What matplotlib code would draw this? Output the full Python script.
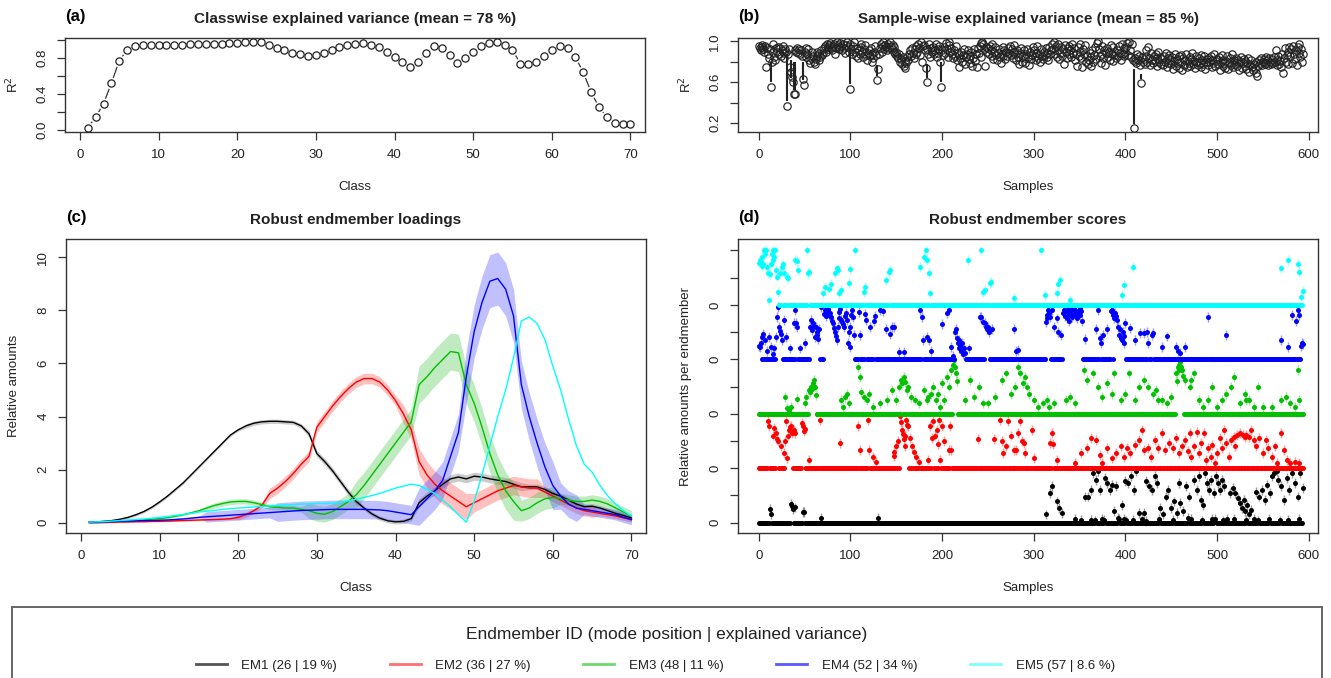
import matplotlib.pyplot as plt
import numpy as np
from matplotlib.lines import Line2D

plt.rcParams['font.family'] = ['Liberation Sans', 'DejaVu Sans']

W, H = 1331, 678
TXT = '#222222'

# ---- data -------------------------------------------------------------
classes = np.arange(1, 71)

# (a) classwise explained variance
r2_class = [0.02, 0.14, 0.29, 0.52, 0.77, 0.89, 0.93, 0.94, 0.94, 0.94,
            0.94, 0.94, 0.945, 0.955, 0.955, 0.955, 0.96, 0.96, 0.965, 0.97,
            0.975, 0.975, 0.975, 0.94, 0.91, 0.885, 0.86, 0.845, 0.82, 0.835,
            0.86, 0.89, 0.92, 0.945, 0.955, 0.965, 0.95, 0.92, 0.87, 0.81,
            0.75, 0.695, 0.75, 0.855, 0.93, 0.915, 0.83, 0.745, 0.795, 0.865,
            0.93, 0.965, 0.975, 0.95, 0.89, 0.735, 0.73, 0.76, 0.825, 0.885,
            0.935, 0.915, 0.81, 0.64, 0.42, 0.25, 0.14, 0.075, 0.06, 0.06]

# (b) sample-wise explained variance (percent)
r2_sample = [
    95, 93, 91, 96, 94, 92, 90, 95, 75, 93, 88, 84, 92, 55, 80, 90, 97, 85, 82, 93,
    90, 94, 88, 93, 86, 91, 95, 89, 84, 92, 90, 37, 88, 92, 75, 70, 65, 60, 48, 91,
    48, 90, 93, 89, 92, 88, 91, 86, 63, 57, 90, 93, 85, 88, 92, 82, 79, 84, 90, 86,
    80, 78, 83, 86, 90, 88, 82, 85, 91, 87, 89, 93, 95, 90, 97, 94, 92, 96, 98, 93,
    91, 95, 97, 88, 93, 99, 96, 92, 94, 98, 95, 91, 97, 93, 89, 96, 99, 94, 90, 53,
    97, 92, 88, 95, 99, 90, 86, 93, 84, 91, 88, 94, 97, 90, 85, 92, 96, 87, 82, 89,
    91, 86, 93, 80, 88, 84, 90, 95, 87, 62, 73, 88, 93, 97, 90, 95, 99, 92, 96, 94,
    91, 97, 93, 99, 95, 92, 96, 90, 94, 88, 90, 86, 84, 88, 80, 83, 78, 85, 76, 81,
    74, 79, 85, 82, 88, 91, 86, 93, 89, 84, 92, 88, 95, 90, 97, 93, 87, 99, 80, 95,
    96, 91, 74, 60, 92, 88, 97, 85, 93, 90, 94, 88, 91, 97, 85, 92, 89, 95, 80, 55,
    91, 87, 94, 89, 98, 92, 85, 96, 99, 90, 93, 88, 84, 91, 86, 95, 82, 89, 75, 87,
    84, 90, 80, 87, 92, 78, 85, 88, 91, 83, 79, 86, 90, 76, 84, 92, 81, 88, 75, 93,
    89, 95, 98, 85, 99, 97, 92, 76, 94, 90, 93, 88, 95, 91, 86, 97, 83, 90, 94, 87,
    82, 89, 92, 85, 79, 88, 94, 86, 91, 83, 90, 86, 93, 89, 95, 87, 92, 84, 90, 96,
    88, 82, 91, 85, 78, 89, 93, 80, 86, 91, 84, 79, 88, 92, 85, 77, 90, 83, 87, 94,
    91, 86, 82, 89, 95, 84, 88, 80, 92, 86, 83, 90, 87, 93, 85, 89, 82, 94, 88, 91,
    97, 92, 99, 88, 95, 85, 91, 97, 83, 89, 94, 86, 92, 78, 96, 90, 84, 93, 88, 95,
    91, 85, 97, 89, 93, 82, 88, 76, 94, 86, 90, 97, 84, 75, 92, 88, 96, 80, 86, 78,
    82, 89, 76, 85, 91, 80, 87, 94, 83, 98, 100, 92, 86, 79, 95, 88, 84, 91, 77, 89,
    93, 85, 90, 82, 96, 88, 81, 94, 87, 90, 84, 91, 86, 95, 89, 82, 97, 88, 93, 86,
    90, 94, 98, 87, 99, 91, 85, 97, 82, 15, 81, 84, 79, 88, 82, 86, 77, 59, 85, 80,
    83, 78, 91, 86, 80, 94, 84, 77, 89, 82, 79, 86, 81, 88, 76, 84, 90, 80, 85, 78,
    83, 77, 86, 80, 89, 75, 84, 79, 87, 82, 78, 85, 73, 81, 88, 76, 83, 79, 86, 74,
    80, 87, 72, 84, 77, 82, 88, 75, 81, 79, 85, 76, 83, 89, 78, 81, 74, 86, 80, 77,
    84, 79, 87, 75, 82, 78, 86, 73, 80, 83, 77, 84, 80, 86, 75, 82, 79, 88, 76, 81,
    83, 78, 85, 72, 80, 87, 76, 82, 79, 74, 81, 86, 73, 79, 84, 77, 88, 75, 82, 80,
    78, 84, 76, 82, 72, 80, 85, 74, 79, 83, 76, 81, 73, 79, 84, 70, 77, 82, 75, 72,
    78, 74, 80, 69, 66, 76, 82, 79, 84, 77, 80, 83, 78, 85, 79, 82, 77, 84, 80, 78,
    83, 79, 85, 80, 91, 77, 82, 86, 78, 81, 75, 88, 69, 84, 93, 80, 87, 78, 90, 94,
    86, 92, 79, 95, 88, 83, 91, 77, 94, 89, 97, 85, 92, 80, 88]
# range bars of the low outliers: sample, bottom, top
seg_x = [13, 31, 35, 38, 40, 48, 99, 129, 183, 199, 409, 417]
seg_lo = [0.60, 0.42, 0.64, 0.52, 0.52, 0.62, 0.58, 0.66, 0.64, 0.60, 0.19, 0.63]
seg_hi = [0.80, 0.88, 0.82, 0.80, 0.80, 0.80, 0.92, 0.77, 0.78, 0.80, 0.73, 0.68]

# (c) robust endmember loadings (mean) and half width of the band
em1_load = [0.01, 0.03, 0.05, 0.08, 0.13, 0.2, 0.3, 0.42, 0.58, 0.78,
            1.0, 1.25, 1.5, 1.8, 2.1, 2.4, 2.7, 3.0, 3.3, 3.5,
            3.65, 3.75, 3.8, 3.82, 3.82, 3.8, 3.78, 3.65, 3.35, 2.6,
            2.3, 1.95, 1.55, 1.15, 0.8, 0.55, 0.33, 0.17, 0.07, 0.03,
            0.05, 0.15, 0.75, 1.0, 1.2, 1.45, 1.65, 1.72, 1.65, 1.75,
            1.72, 1.65, 1.6, 1.55, 1.45, 1.35, 1.35, 1.35, 1.25, 1.1,
            1.0, 0.85, 0.7, 0.6, 0.62, 0.55, 0.45, 0.35, 0.27, 0.18]
em2_load = [0.01, 0.01, 0.02, 0.02, 0.03, 0.03, 0.04, 0.04, 0.05, 0.05,
            0.06, 0.07, 0.08, 0.09, 0.1, 0.11, 0.12, 0.13, 0.15, 0.2,
            0.3, 0.45, 0.65, 1.1, 1.3, 1.55, 1.85, 2.2, 2.5, 3.6,
            4.0, 4.4, 4.75, 5.05, 5.3, 5.43, 5.43, 5.3, 5.0, 4.6,
            4.1, 3.5, 2.3, 1.8, 1.45, 1.2, 1.0, 0.8, 0.6, 0.75,
            0.9, 1.05, 1.2, 1.3, 1.4, 1.35, 1.3, 1.3, 1.15, 1.0,
            0.85, 0.7, 0.55, 0.45, 0.4, 0.35, 0.3, 0.25, 0.18, 0.12]
em3_load = [0.02, 0.03, 0.04, 0.05, 0.06, 0.07, 0.09, 0.11, 0.13, 0.15,
            0.19, 0.24, 0.3, 0.37, 0.45, 0.55, 0.65, 0.72, 0.78, 0.8,
            0.8, 0.75, 0.68, 0.6, 0.58, 0.55, 0.55, 0.5, 0.45, 0.35,
            0.32, 0.42, 0.6, 0.8, 1.05, 1.4, 1.8, 2.2, 2.6, 3.0,
            3.4, 3.8, 5.2, 5.5, 5.85, 6.15, 6.45, 6.4, 5.2, 4.5,
            3.6, 2.6, 1.8, 1.2, 0.8, 0.45, 0.55, 0.75, 0.9, 0.95,
            0.9, 0.85, 0.8, 0.8, 0.85, 0.8, 0.7, 0.55, 0.4, 0.25]
em4_load = [0.01, 0.02, 0.03, 0.04, 0.05, 0.06, 0.07, 0.08, 0.08, 0.09,
            0.1, 0.12, 0.14, 0.17, 0.2, 0.22, 0.24, 0.26, 0.28, 0.3,
            0.32, 0.34, 0.36, 0.38, 0.4, 0.42, 0.44, 0.46, 0.47, 0.48,
            0.49, 0.5, 0.5, 0.5, 0.5, 0.5, 0.49, 0.48, 0.45, 0.4,
            0.35, 0.3, 0.6, 0.9, 1.2, 1.6, 2.5, 3.4, 5.5, 7.2,
            8.3, 9.1, 9.2, 8.8, 7.8, 5.2, 4.0, 3.0, 2.1, 1.4,
            1.0, 0.7, 0.55, 0.5, 0.45, 0.4, 0.35, 0.3, 0.2, 0.12]
em5_load = [0.02, 0.03, 0.04, 0.06, 0.08, 0.1, 0.12, 0.14, 0.17, 0.2,
            0.23, 0.27, 0.31, 0.35, 0.4, 0.43, 0.46, 0.5, 0.53, 0.55,
            0.57, 0.59, 0.61, 0.63, 0.65, 0.67, 0.68, 0.7, 0.71, 0.72,
            0.72, 0.73, 0.77, 0.82, 0.88, 0.95, 1.02, 1.1, 1.2, 1.3,
            1.38, 1.45, 1.4, 1.25, 1.1, 0.85, 0.6, 0.3, 0.02, 0.8,
            1.8, 2.9, 4.0, 5.0, 6.2, 7.6, 7.75, 7.5, 6.9, 5.9,
            5.0, 3.9, 2.9, 2.2, 1.9, 1.4, 1.0, 0.7, 0.45, 0.25]

em1_band = [0.05] * 20 + [0.08] * 8 + [0.12] * 7 + [0.08] * 7 + [0.15] * 14 + [0.1] * 14
em2_band = [0.03] * 19 + [0.1] * 4 + [0.2] * 17 + [0.35] * 2 + [0.5] * 7 + [0.35] * 9 + [0.2] * 7 + [0.1] * 5
em3_band = [0.04] * 15 + [0.1] * 13 + [0.3] * 6 + [0.5] * 8 + [0.7] * 6 + [0.7] * 7 + [0.4] * 5 + [0.2] * 10
em4_band = [0.04] * 15 + [0.2] * 9 + [0.35] * 18 + [0.7] * 6 + [1.0] * 7 + [0.9] * 5 + [0.5] * 3 + [0.2] * 7

# (d) robust endmember scores: (sample, score in %) for the non-zero ones
n_samples = 595
em1_pts = [(12, 25), (13, 15), (35, 35), (36, 30), (37, 25), (39, 28), (48, 20), (49, 20), (68, 8),
           (130, 8), (313, 15), (318, 54), (320, 67), (325, 39), (328, 27), (331, 18), (345, 6),
           (352, 5), (356, 48), (359, 48), (362, 60), (363, 5), (365, 91), (367, 4), (368, 79),
           (370, 94), (372, 60), (375, 6), (377, 5), (378, 82), (380, 73), (383, 60), (385, 70),
           (388, 21), (390, 67), (392, 8), (393, 6), (396, 33), (398, 6), (400, 76), (401, 4),
           (403, 73), (406, 85), (408, 5), (409, 60), (412, 94), (415, 18), (418, 6), (420, 18),
           (422, 3), (423, 76), (426, 67), (429, 60), (432, 85), (435, 73), (437, 7), (438, 27),
           (441, 15), (444, 48), (447, 60), (450, 27), (452, 5), (453, 39), (456, 18), (458, 73),
           (460, 36), (463, 21), (466, 67), (468, 8), (469, 48), (472, 6), (475, 79), (478, 60),
           (480, 85), (482, 42), (484, 4), (485, 33), (487, 91), (489, 73), (491, 60), (493, 79),
           (495, 6), (497, 54), (498, 6), (499, 85), (501, 73), (503, 60), (505, 79), (507, 4),
           (508, 67), (511, 6), (514, 54), (517, 64), (519, 7), (520, 54), (523, 45), (525, 36),
           (527, 27), (529, 42), (531, 21), (532, 5), (533, 33), (535, 15), (537, 24), (540, 6),
           (543, 57), (545, 4), (546, 48), (549, 60), (552, 42), (555, 70), (557, 6), (558, 54),
           (560, 85), (562, 91), (565, 94), (567, 79), (569, 4), (570, 67), (573, 42), (576, 82),
           (578, 5), (579, 60), (582, 91), (585, 73), (588, 48), (589, 7), (591, 91), (594, 64)]
em2_pts = [(10, 86), (11, 77), (15, 60), (17, 74), (19, 65), (20, 53), (21, 50), (24, 40), (28, 28),
           (29, 50), (30, 86), (31, 19), (32, 60), (33, 70), (34, 75), (35, 77), (36, 65), (38, 70),
           (39, 65), (47, 83), (48, 77), (49, 68), (50, 72), (55, 16), (67, 88), (89, 46), (108, 77),
           (110, 34), (119, 89), (120, 34), (125, 20), (128, 12), (147, 22), (148, 30), (150, 40),
           (152, 50), (154, 96), (155, 85), (156, 70), (157, 62), (158, 53), (159, 40), (160, 60),
           (161, 89), (162, 80), (163, 77), (165, 55), (167, 40), (169, 30), (172, 20), (175, 12),
           (185, 16), (187, 77), (189, 56), (190, 86), (192, 60), (194, 70), (196, 45), (197, 89),
           (198, 16), (200, 77), (202, 50), (207, 34), (209, 77), (210, 34), (239, 53), (257, 53),
           (263, 89), (265, 50), (267, 28), (270, 40), (272, 86), (275, 60), (278, 34), (281, 34),
           (283, 65), (285, 86), (287, 50), (289, 46), (291, 28), (298, 70), (300, 19), (318, 46),
           (320, 65), (321, 44), (325, 15), (345, 9), (352, 28), (358, 37), (362, 55), (368, 52),
           (372, 24), (375, 9), (380, 37), (385, 18), (390, 28), (395, 40), (398, 21), (402, 37),
           (405, 28), (410, 43), (415, 52), (418, 70), (420, 34), (425, 37), (428, 21), (432, 52),
           (436, 37), (440, 64), (443, 34), (448, 46), (452, 37), (455, 55), (458, 28), (462, 40),
           (465, 52), (468, 31), (470, 64), (472, 21), (475, 40), (478, 67), (480, 28), (483, 46),
           (486, 64), (488, 15), (490, 37), (493, 21), (495, 43), (498, 9), (500, 28), (503, 55),
           (505, 37), (508, 70), (510, 46), (513, 21), (515, 52), (518, 58), (520, 40), (522, 61),
           (525, 64), (528, 61), (530, 58), (532, 61), (535, 58), (537, 70), (540, 52), (543, 40),
           (546, 55), (550, 28), (553, 52), (556, 37), (560, 21), (563, 40), (566, 9), (570, 64),
           (573, 34), (576, 15), (580, 9), (585, 12), (590, 9)]
em3_pts = [(29, 31), (31, 10), (33, 7), (35, 13), (42, 28), (50, 19), (52, 31), (55, 44), (56, 40),
           (57, 50), (58, 45), (59, 56), (60, 62), (61, 50), (62, 35), (90, 25), (92, 13), (94, 30),
           (96, 37), (98, 19), (108, 86), (110, 68), (112, 40), (115, 31), (118, 25), (120, 37),
           (125, 13), (132, 19), (140, 25), (145, 43), (150, 25), (153, 50), (155, 62), (156, 56),
           (158, 68), (160, 59), (162, 44), (163, 50), (166, 31), (170, 25), (175, 19), (180, 43),
           (183, 25), (185, 31), (188, 37), (190, 50), (193, 25), (195, 37), (198, 13), (200, 56),
           (202, 25), (205, 68), (208, 50), (210, 80), (212, 90), (213, 98), (214, 86), (215, 74),
           (216, 60), (225, 25), (230, 62), (235, 31), (240, 50), (245, 19), (250, 19), (258, 31),
           (265, 62), (270, 74), (275, 37), (280, 50), (283, 86), (285, 74), (288, 56), (290, 68),
           (293, 50), (295, 37), (300, 25), (305, 13), (310, 19), (315, 25), (317, 13), (322, 19),
           (335, 25), (340, 31), (345, 19), (355, 80), (358, 62), (365, 74), (370, 50), (375, 31),
           (380, 56), (385, 37), (388, 74), (395, 25), (400, 37), (404, 74), (410, 25), (415, 50),
           (420, 62), (425, 50), (430, 37), (433, 43), (436, 25), (440, 25), (445, 19), (450, 31),
           (455, 74), (456, 60), (457, 86), (458, 80), (459, 90), (460, 95), (461, 85), (462, 80),
           (463, 70), (465, 62), (470, 50), (472, 62), (475, 74), (480, 25), (485, 13), (490, 25),
           (495, 50), (500, 13), (505, 25), (510, 37), (515, 50), (518, 68), (525, 19), (530, 37),
           (532, 25), (535, 25), (540, 13), (545, 50), (550, 13), (560, 13), (570, 25), (575, 31),
           (580, 19), (585, 13), (588, 80), (590, 25)]
em4_pts = [(0, 25), (1, 23), (2, 30), (3, 41), (5, 47), (7, 35), (9, 16), (11, 41), (13, 23), (15, 10),
           (17, 20), (19, 41), (20, 78), (21, 96), (22, 60), (23, 52), (24, 47), (25, 35), (28, 72),
           (30, 41), (34, 20), (38, 66), (40, 90), (41, 66), (42, 59), (45, 20), (50, 30), (56, 59),
           (57, 72), (58, 53), (59, 66), (60, 62), (61, 41), (62, 59), (63, 50), (64, 45), (65, 38),
           (66, 55), (68, 96), (71, 84), (72, 90), (73, 80), (74, 85), (75, 92), (76, 90), (77, 82),
           (78, 86), (79, 78), (80, 70), (81, 66), (82, 58), (83, 50), (84, 42), (85, 35), (86, 60),
           (87, 75), (88, 87), (89, 93), (90, 72), (91, 69), (92, 65), (93, 59), (94, 80), (95, 85),
           (96, 72), (97, 30), (98, 50), (99, 23), (100, 60), (101, 82), (102, 90), (103, 78),
           (104, 45), (109, 87), (110, 44), (116, 84), (117, 72), (121, 59), (126, 70), (127, 80),
           (132, 90), (135, 89), (139, 56), (143, 47), (145, 60), (147, 59), (153, 14), (158, 14),
           (176, 90), (178, 78), (179, 35), (184, 41), (186, 35), (188, 16), (200, 65), (205, 85),
           (207, 91), (210, 23), (212, 7), (214, 50), (215, 55), (216, 40), (217, 30), (218, 20),
           (219, 35), (220, 25), (221, 15), (222, 30), (223, 10), (224, 20), (225, 12), (229, 20),
           (241, 78), (243, 78), (245, 69), (247, 66), (248, 60), (249, 55), (250, 60), (251, 50),
           (254, 56), (278, 56), (281, 16), (283, 17), (313, 69), (314, 75), (315, 82), (316, 90),
           (317, 85), (318, 78), (320, 90), (322, 60), (325, 75), (327, 50), (330, 45), (332, 85),
           (333, 90), (334, 80), (335, 88), (336, 75), (337, 92), (338, 84), (339, 70), (340, 86),
           (341, 90), (342, 78), (343, 82), (344, 94), (345, 88), (346, 80), (347, 76), (348, 85),
           (349, 90), (350, 95), (351, 82), (352, 88), (353, 70), (356, 38), (368, 55), (370, 90),
           (372, 40), (373, 30), (376, 45), (380, 55), (384, 88), (385, 90), (386, 82), (388, 75),
           (389, 85), (390, 80), (391, 72), (392, 60), (393, 45), (394, 55), (395, 40), (396, 35),
           (397, 50), (398, 42), (399, 30), (400, 66), (405, 57), (410, 35), (416, 48), (420, 48),
           (424, 50), (425, 30), (429, 45), (430, 48), (440, 23), (445, 42), (455, 23), (457, 15),
           (460, 12), (465, 23), (490, 78), (510, 45), (570, 35), (578, 23), (582, 81), (586, 70),
           (588, 90), (590, 81), (592, 25), (593, 30), (594, 28)]
em5_pts = [(0, 77), (1, 82), (2, 79), (3, 71), (4, 88), (5, 75), (6, 100), (7, 93), (8, 100), (9, 70),
           (10, 58), (11, 9), (12, 57), (13, 75), (14, 94), (15, 100), (16, 83), (17, 88), (18, 100),
           (19, 64), (20, 52), (21, 24), (23, 58), (25, 70), (26, 76), (28, 58), (31, 52), (32, 49),
           (40, 82), (42, 80), (43, 64), (53, 100), (54, 58), (55, 60), (70, 21), (72, 33), (77, 30),
           (79, 39), (83, 58), (85, 67), (86, 64), (88, 21), (90, 27), (98, 40), (99, 66), (105, 100),
           (115, 24), (116, 33), (139, 45), (142, 60), (143, 64), (176, 70), (180, 88), (182, 100),
           (184, 82), (186, 58), (187, 21), (228, 82), (243, 100), (245, 24), (247, 27), (252, 40),
           (253, 42), (278, 12), (308, 100), (312, 18), (325, 21), (327, 39), (329, 45), (340, 9),
           (396, 18), (398, 36), (408, 70), (570, 67), (578, 82), (588, 76), (590, 60), (592, 15),
           (594, 25)]

em_names = ['EM1', 'EM2', 'EM3', 'EM4', 'EM5']
em_mode = [26, 36, 48, 52, 57]
em_var = ['19', '27', '11', '34', '8.6']
em_colors = ['black', '#FF0000', '#00C000', '#0000FF', '#00FFFF']
band_colors = ['#555555', '#FF3030', '#30C030', '#3030FF']
leg_colors = ['#555555', '#FF7070', '#70D870', '#5A5AFF', '#80FFFF']

loads = [em1_load, em2_load, em3_load, em4_load, em5_load]
bands = [em1_band, em2_band, em3_band, em4_band]
pts_all = [em1_pts, em2_pts, em3_pts, em4_pts, em5_pts]

# ---- figure -----------------------------------------------------------
fig = plt.figure(figsize=(W / 100, H / 100), dpi=100)


def px_axes(left, top, right, bottom):
    return fig.add_axes([left / W, 1 - bottom / H, (right - left) / W, (bottom - top) / H])


def r_style(ax, box, title, letter, xlabel, ylabel, yticks, ylabels):
    left, top, right, bottom = box
    for s in ax.spines.values():
        s.set_linewidth(1.0)
        s.set_color('#333333')
    ax.set_yticks(yticks, ylabels, rotation=90, va='center')
    ax.tick_params(direction='out', length=5.5, width=0.9, color='#333333',
                   labelsize=9.5, pad=6.5, labelcolor=TXT)
    ax.set_title(title, fontsize=11, fontweight='bold', pad=11, color=TXT)
    ax.annotate(letter, xy=(0, 1), xycoords='axes fraction', xytext=(0, 15.5),
                textcoords='offset points', fontsize=12, fontweight='bold',
                ha='left', va='center', color='black')
    ax.set_xlabel(xlabel, fontsize=9.5, color=TXT, va='center')
    ax.set_ylabel(ylabel, fontsize=9.5, color=TXT, va='center')
    ax.xaxis.set_label_coords(0.5, -55 / (bottom - top))
    ax.yaxis.set_label_coords(-52 / (right - left), 0.5)


box_a = (65, 38, 645, 132)
box_b = (738, 38, 1318, 132)
box_c = (66, 239, 646, 533)
box_d = (738, 239, 1318, 533)

# (a)
ax = px_axes(*box_a)
ax.plot(classes, r2_class, color='#333333', lw=0.9, zorder=1)
ax.plot(classes, r2_class, 'o', ms=8.5, mfc='white', mec='none', zorder=2)
ax.plot(classes, r2_class, 'o', ms=5.2, mfc='none', mec=TXT, mew=0.9, zorder=3)
ax.set_xlim(-1.9, 71.85)
ax.set_ylim(-0.026, 1.023)
ax.set_xticks(np.arange(0, 71, 10))
r_style(ax, box_a, 'Classwise explained variance (mean = 78 %)', '(a)', 'Class', 'R$^2$',
        [0, 0.2, 0.4, 0.6, 0.8, 1.0], ['0.0', '', '0.4', '', '0.8', ''])

# (b)
ax = px_axes(*box_b)
xs = np.arange(len(r2_sample))
ax.vlines(seg_x, seg_lo, seg_hi, color=TXT, lw=1.5)
ax.plot(xs, np.array(r2_sample) / 100, 'o', ms=5.3, mfc='none', mec=TXT, mew=0.85)
ax.set_xlim(-22.7, 610.2)
ax.set_ylim(0.113, 1.032)
ax.set_xticks(np.arange(0, 601, 100))
r_style(ax, box_b, 'Sample-wise explained variance (mean = 85 %)', '(b)', 'Samples', 'R$^2$',
        [0.2, 0.4, 0.6, 0.8, 1.0], ['0.2', '', '0.6', '', '1.0'])

# (c)
ax = px_axes(*box_c)
for k in range(4):
    m = np.array(loads[k])
    hw = np.array(bands[k])
    ax.fill_between(classes, m - hw, m + hw, color=band_colors[k], alpha=0.3, lw=0)
for k in range(5):
    ax.plot(classes, loads[k], color=em_colors[k], lw=1.0)
ax.set_xlim(-1.9, 71.85)
ax.set_ylim(-0.39, 10.69)
ax.set_xticks(np.arange(0, 71, 10))
r_style(ax, box_c, 'Robust endmember loadings', '(c)', 'Class', 'Relative amounts',
        np.arange(0, 11, 2), [str(v) for v in range(0, 11, 2)])

# (d)
ax = px_axes(*box_d)
xs = np.arange(n_samples)
for k in range(5):
    score = np.zeros(n_samples)
    for i, p in pts_all[k]:
        score[i] = p / 100
    nz = score > 0
    ax.vlines(xs[nz], k + score[nz] - 0.09, k + score[nz] + 0.09,
              color=em_colors[k], alpha=0.4, lw=1.0)
    ax.plot(xs, k + score, 'o', ms=3.6, mec='none', mfc=em_colors[k])
ax.set_xlim(-22.7, 610.2)
ax.set_ylim(-0.19, 5.21)
ax.set_xticks(np.arange(0, 601, 100))
yt = np.arange(0, 5.01, 0.5)
r_style(ax, box_d, 'Robust endmember scores', '(d)', 'Samples', 'Relative amounts per endmember',
        yt, ['0' if v % 1 == 0 and v < 5 else '' for v in yt])

# legend panel
lax = px_axes(12, 607, 1322, 680)
lax.set_xticks([])
lax.set_yticks([])
for side in ['top', 'left', 'right']:
    lax.spines[side].set_color('#666666')
    lax.spines[side].set_linewidth(1.4)
lax.spines['bottom'].set_visible(False)
lax.text(0.5, 0.63, 'Endmember ID (mode position | explained variance)',
         transform=lax.transAxes, ha='center', va='center', fontsize=12.5, color=TXT)
handles = [Line2D([], [], color=c, lw=2) for c in leg_colors]
labels = ['%s (%d | %s %%)' % (n, m, v) for n, m, v in zip(em_names, em_mode, em_var)]
lax.legend(handles, labels, ncol=5, loc='center', bbox_to_anchor=(0.491, 0.2),
           frameon=False, fontsize=9.5, handlelength=2.35, handletextpad=1.1,
           columnspacing=4.0, labelcolor=TXT)

fig.savefig('out.png', dpi=100)
